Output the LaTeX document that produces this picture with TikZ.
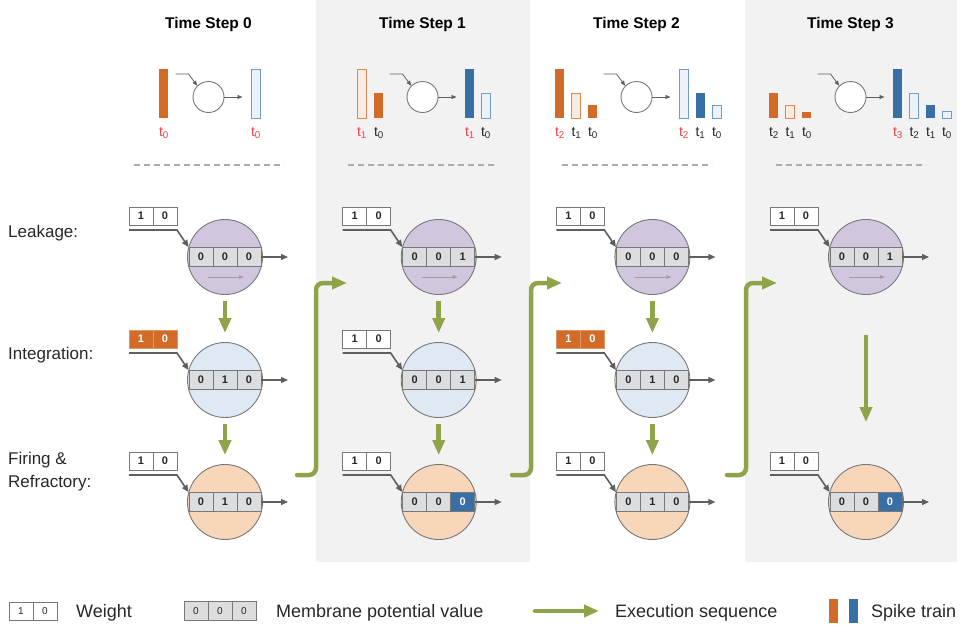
\documentclass[tikz,border=0pt]{standalone}
\usepackage{fontspec}
\setmainfont{Liberation Sans}
\usetikzlibrary{arrows.meta,calc}
\definecolor{bggray}{RGB}{242,242,242}
\definecolor{sorange}{RGB}{211,107,40}
\definecolor{sblue}{RGB}{56,112,166}
\definecolor{lorange}{RGB}{250,236,226}
\definecolor{lblue}{RGB}{236,242,249}
\definecolor{leakfill}{RGB}{208,199,223}
\definecolor{intfill}{RGB}{222,233,244}
\definecolor{firefill}{RGB}{248,214,185}
\definecolor{cellfill}{RGB}{220,221,222}
\definecolor{cellline}{RGB}{120,120,120}
\definecolor{linegray}{RGB}{95,95,95}
\definecolor{gseq}{RGB}{143,164,72}
\definecolor{tred}{RGB}{240,64,72}
\definecolor{txt}{RGB}{40,40,40}
\tikzset{
  neuron/.style={circle, draw=cellline, line width=0.9pt, minimum size=75pt, inner sep=0pt},
  tneuron/.style={circle, draw=cellline, fill=white, line width=0.9pt, minimum size=31pt, inner sep=0pt},
  regcell/.style={rectangle, draw=cellline, fill=cellfill, line width=0.9pt, minimum width=24pt, minimum height=19pt, inner sep=0pt, font=\fontsize{11}{12}\selectfont\bfseries, text=txt},
  regon/.style={regcell, fill=sblue, text=white},
  wcell/.style={rectangle, draw=cellline, fill=white, line width=0.9pt, minimum width=24pt, minimum height=18pt, inner sep=0pt, font=\fontsize{11}{12}\selectfont\bfseries, text=txt},
  won/.style={wcell, fill=sorange, draw=sorange!70!white, text=white},
  feed/.style={draw=linegray, line width=1.6pt, -{Triangle[width=6pt,length=7pt]}},
  feedout/.style={draw=linegray, line width=1.3pt, -{Triangle[width=6pt,length=7pt]}},
  tfeed/.style={draw=linegray, line width=0.8pt, -{Triangle[width=4pt,length=5pt]}},
  leakarrow/.style={draw=gray!75, line width=0.9pt, -{Triangle[width=3.5pt,length=5pt]}},
  garrow/.style={draw=gseq, line width=4.5pt, line cap=round, -{Triangle[width=12pt,length=15pt]}},
  rowlabel/.style={anchor=base west, inner sep=0pt, font=\fontsize{17}{20}\selectfont, text=txt},
  leglabel/.style={anchor=base west, inner sep=0pt, font=\fontsize{18}{21}\selectfont, text=txt},
  steptitle/.style={anchor=base, inner sep=0pt, font=\fontsize{15.5}{18}\selectfont\bfseries, text=black},
  tlab/.style={anchor=base, inner sep=0pt, font=\fontsize{14}{16}\selectfont},
  dashsep/.style={draw=gray!65, line width=1.3pt, dash pattern=on 6pt off 4pt},
  ofill/.style={fill=sorange, draw=none},
  ohol/.style={fill=lorange, draw=sorange!80!white, line width=1pt},
  bfill/.style={fill=sblue, draw=none},
  bhol/.style={fill=lblue, draw=sblue!70!white, line width=1pt},
}
\newcommand{\tr}[1]{\textcolor{tred}{t\textsubscript{#1}}}
\newcommand{\tk}[1]{\textcolor{txt}{t\textsubscript{#1}}}
% spike bar: style, left x, top y, name, label
\newcommand{\spk}[5]{%
  \path[#1] (#2,#3) rectangle (#2+9,118);
  \node[tlab] (#4) at (#2+5,136) {#5};}
% neuron: name, x, y, fill, weight style, v1, v2, v3, third cell style
\newcommand{\neur}[9]{%
  \node[neuron, fill=#4] (#1c) at (#2,#3) {};
  \node[regcell] (#1r1) at (#2-24,#3) {#6};
  \node[regcell] (#1r2) at (#2,#3) {#7};
  \node[#9] (#1r3) at (#2+24,#3) {#8};
  \node[#5] (#1wa) at (#2-84,#3-41) {1};
  \node[#5] (#1wb) at (#2-60,#3-41) {0};
  \coordinate (#1in) at (#2-96,#3-27);
  \coordinate (#1bend) at (#2-48,#3-27);
  \coordinate (#1out) at (#2+63,#3);
  \draw[feed] (#1in) -- (#1bend) -- (#1r1.north west);
  \draw[feedout] (#1r3.east) -- (#1out);}
% top mini neuron: name, x
\newcommand{\tneur}[2]{%
  \node[tneuron] (#1) at (#2,97) {};
  \coordinate (#1i) at (#2-33,74);
  \coordinate (#1k) at (#2-20,74);
  \coordinate (#1o) at (#2+34,97);
  \draw[tfeed] (#1i) -- (#1k) -- (#1.north west);
  \draw[tfeed] (#1.east) -- (#1o);}
\begin{document}
\begin{tikzpicture}[x=1pt,y=-1pt]
\useasboundingbox (0,0) rectangle (969,632);
\fill[white] (0,0) rectangle (969,632);
\fill[bggray] (316,0) rectangle (530,562);
\fill[bggray] (745,0) rectangle (957,562);

% titles
\node[steptitle] (ts0) at (208.5,28) {Time Step 0};
\node[steptitle] (ts1) at (422.5,28) {Time Step 1};
\node[steptitle] (ts2) at (636.5,28) {Time Step 2};
\node[steptitle] (ts3) at (850.5,28) {Time Step 3};

% top spike diagrams
\tneur{T0}{208.5}
\spk{ofill}{159}{69}{a00}{\tr{0}}
\spk{bhol}{251}{69}{b00}{\tr{0}}

\tneur{T1}{422.5}
\spk{ohol}{357}{69}{a11}{\tr{1}}
\spk{ofill}{374}{93}{a10}{\tk{0}}
\spk{bfill}{465}{69}{b11}{\tr{1}}
\spk{bhol}{481}{93}{b10}{\tk{0}}

\tneur{T2}{636.5}
\spk{ofill}{555}{69}{a22}{\tr{2}}
\spk{ohol}{571.5}{93}{a21}{\tk{1}}
\spk{ofill}{588}{105}{a20}{\tk{0}}
\spk{bhol}{679}{69}{b22}{\tr{2}}
\spk{bfill}{695.5}{93}{b21}{\tk{1}}
\spk{bhol}{712}{105}{b20}{\tk{0}}

\tneur{T3}{850.5}
\spk{ofill}{769}{93}{a32}{\tk{2}}
\spk{ohol}{785.5}{105}{a31}{\tk{1}}
\spk{ofill}{802}{112}{a30}{\tk{0}}
\spk{bfill}{893}{69}{b33}{\tr{3}}
\spk{bhol}{909.5}{93}{b32}{\tk{2}}
\spk{bfill}{926}{105}{b31}{\tk{1}}
\spk{bhol}{942}{111}{b30}{\tk{0}}

% dashed separators
\draw[dashsep] (133.5,165) -- (283.5,165);
\draw[dashsep] (347.5,165) -- (497.5,165);
\draw[dashsep] (561.5,165) -- (711.5,165);
\draw[dashsep] (775.5,165) -- (925.5,165);

% row labels
\node[rowlabel] (lab1) at (8,237) {Leakage:};
\node[rowlabel] (lab2) at (8,359.5) {Integration:};
\node[rowlabel] (lab3) at (8,464) {Firing \&};
\node[rowlabel] (lab4) at (8,487) {Refractory:};

% column 0
\neur{L0}{225}{257}{leakfill}{wcell}{0}{0}{0}{regcell}
\draw[leakarrow] (208,277) -- (244,277);
\neur{I0}{225}{380}{intfill}{won}{0}{1}{0}{regcell}
\neur{F0}{225}{502}{firefill}{wcell}{0}{1}{0}{regcell}
\draw[garrow, line cap=butt] ($(L0c.south)+(0,6)$) -- ($(I0c.north)+(0,-9)$);
\draw[garrow, line cap=butt] ($(I0c.south)+(0,6)$) -- ($(F0c.north)+(0,-9)$);

% column 1
\neur{L1}{438.7}{257}{leakfill}{wcell}{0}{0}{1}{regcell}
\draw[leakarrow] (421.7,277) -- (457.7,277);
\neur{I1}{438.7}{380}{intfill}{wcell}{0}{0}{1}{regcell}
\neur{F1}{438.7}{502}{firefill}{wcell}{0}{0}{0}{regon}
\draw[garrow, line cap=butt] ($(L1c.south)+(0,6)$) -- ($(I1c.north)+(0,-9)$);
\draw[garrow, line cap=butt] ($(I1c.south)+(0,6)$) -- ($(F1c.north)+(0,-9)$);

% column 2
\neur{L2}{652.4}{257}{leakfill}{wcell}{0}{0}{0}{regcell}
\draw[leakarrow] (635.4,277) -- (671.4,277);
\neur{I2}{652.4}{380}{intfill}{won}{0}{1}{0}{regcell}
\neur{F2}{652.4}{502}{firefill}{wcell}{0}{1}{0}{regcell}
\draw[garrow, line cap=butt] ($(L2c.south)+(0,6)$) -- ($(I2c.north)+(0,-9)$);
\draw[garrow, line cap=butt] ($(I2c.south)+(0,6)$) -- ($(F2c.north)+(0,-9)$);

% column 3
\neur{L3}{866}{257}{leakfill}{wcell}{0}{0}{1}{regcell}
\draw[leakarrow] (849,277) -- (885,277);
\neur{F3}{866}{502}{firefill}{wcell}{0}{0}{0}{regon}
\draw[garrow, line cap=butt] ($(L3c.south)+(0,40)$) -- ($(F3c.north)+(0,-42)$);

% transitions between time steps
\coordinate (g01a) at (297,475); \coordinate (g01b) at (316,475);
\coordinate (g01c) at (316,283); \coordinate (g01d) at (347,283);
\draw[garrow, rounded corners=7pt] (g01a) -- (g01b) -- (g01c) -- (g01d);
\coordinate (g12a) at (512,475); \coordinate (g12b) at (531,475);
\coordinate (g12c) at (531,283); \coordinate (g12d) at (562,283);
\draw[garrow, rounded corners=7pt] (g12a) -- (g12b) -- (g12c) -- (g12d);
\coordinate (g23a) at (727,475); \coordinate (g23b) at (746,475);
\coordinate (g23c) at (746,283); \coordinate (g23d) at (777,283);
\draw[garrow, rounded corners=7pt] (g23a) -- (g23b) -- (g23c) -- (g23d);

% legend
\node[wcell, font=\fontsize{10}{12}\selectfont] (lgw1) at (21,611) {1};
\node[wcell, font=\fontsize{10}{12}\selectfont] (lgw2) at (45,611) {0};
\node[leglabel] (lgwt) at (76,617.5) {Weight};
\node[regcell, font=\fontsize{10}{12}\selectfont] (lgr1) at (196,611) {0};
\node[regcell, font=\fontsize{10}{12}\selectfont] (lgr2) at (220,611) {0};
\node[regcell, font=\fontsize{10}{12}\selectfont] (lgr3) at (244,611) {0};
\node[leglabel] (lgmt) at (276,617.5) {Membrane potential value};
\coordinate (lga) at (535,611); \coordinate (lgb) at (599,611);
\draw[garrow] (lga) -- (lgb);
\node[leglabel] (lget) at (615,617.5) {Execution sequence};
\fill[sorange] (829,599) rectangle (838,623);
\fill[sblue] (849,599) rectangle (858,623);
\node[leglabel] (lgst) at (871,617.5) {Spike train};
\end{tikzpicture}
\end{document}
